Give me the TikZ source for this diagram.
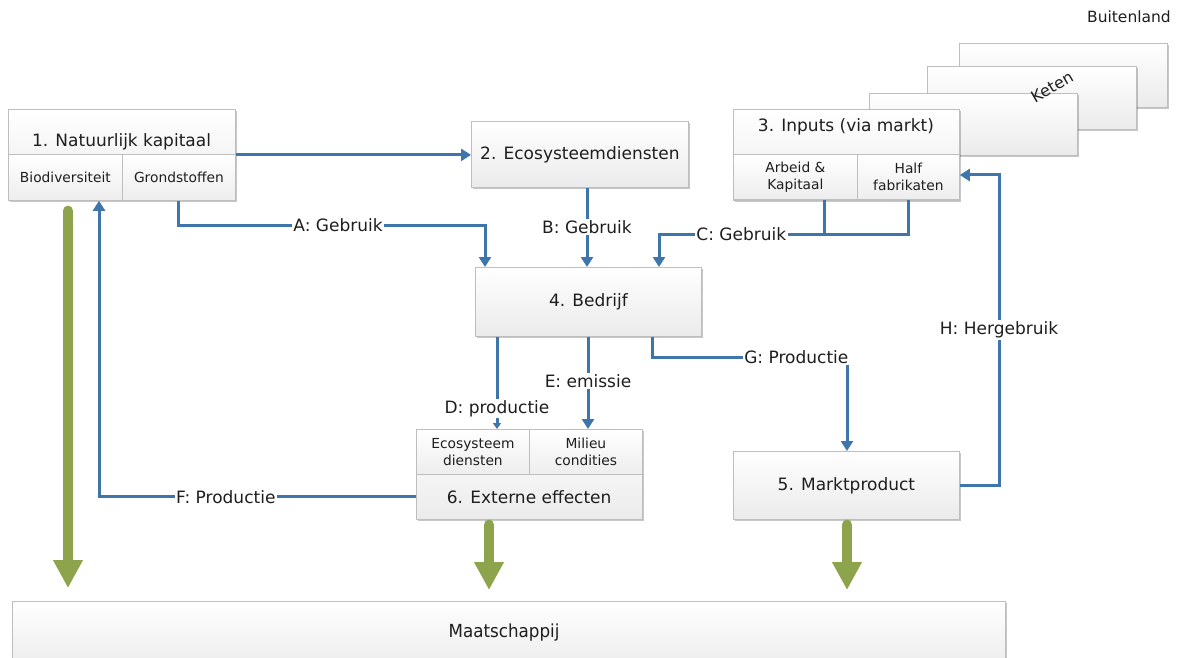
\documentclass[tikz,border=0pt]{standalone}
\usepackage{fontspec}
\setmainfont{DejaVu Sans}
\usetikzlibrary{arrows.meta,shadows,calc}

\definecolor{flow}{RGB}{62,117,170}
\definecolor{leaf}{RGB}{141,163,76}
\definecolor{rim}{RGB}{190,190,190}
\definecolor{ink}{RGB}{30,30,30}

\tikzset{
  wh/.style 2 args={minimum width=#1pt, minimum height=#2pt},
  panel/.style={draw=rim, line width=0.8pt, top color=white, bottom color=black!8,
    drop shadow={shadow xshift=1.6pt, shadow yshift=-1.6pt, opacity=0.22, fill=black},
    anchor=north west, inner sep=0pt, text=ink},
  cell/.style={draw=rim, line width=0.8pt, top color=white, bottom color=black!7,
    anchor=north west, inner sep=0pt, align=center, text=ink,
    font=\fontsize{13.8}{17}\selectfont},
  caption/.style={text=ink, font=\fontsize{17}{20}\selectfont, inner sep=0pt},
  lbl/.style={fill=white, text=ink, font=\fontsize{17}{20}\selectfont, inner sep=1.5pt},
  flowarrow/.style={draw=flow, line width=3pt, miter limit=4,
    -{Triangle[width=12pt,length=10pt]}},
  smalltip/.style={draw=flow, line width=3pt, -{Triangle[width=8pt,length=6pt]}},
  bigarrow/.style={draw=leaf, line width=10.5pt, line cap=round,
    -{Triangle[width=28pt,length=28pt]}},
}

\begin{document}
\begin{tikzpicture}[x=1pt, y=-1pt]
\useasboundingbox (0,0) rectangle (1189,658);

% --- chain of foreign suppliers behind box 3
\node[panel, wh={208}{64}] (back) at (959,43) {};
\node[panel, wh={209}{63}] (mid) at (927,66) {};
\node[panel, wh={208}{62}] (front) at (869,93) {};
\node[caption, rotate=30, font=\fontsize{16}{19}\selectfont] (keten) at (1052,87) {Keten};
\node[caption, anchor=north east, font=\fontsize{15.5}{19}\selectfont] (buitenland) at (1171,11) {Buitenland};

% --- 1. natural capital
\node[panel, wh={227}{91}] (box1) at (8,109) {};
\node[caption] (t1) at (121.5,142) {1. Natuurlijk kapitaal};
\node[cell, wh={114}{46}] (bio) at (8,154) {Biodiversiteit};
\node[cell, wh={113}{46}] (grond) at (122,154) {Grondstoffen};

% --- 2. ecosystem services
\node[panel, wh={217}{66}] (box2) at (471,121) {};
\node[caption] (t2) at (box2.center) {2. Ecosysteemdiensten};

% --- 3. inputs
\node[panel, wh={226}{91}] (box3) at (733,109) {};
\node[caption] (t3) at (846,127) {3. Inputs (via markt)};
\node[cell, wh={124}{45}] (arbeid) at (733,154) {Arbeid \&\\Kapitaal};
\node[cell, wh={102}{45}] (half) at (857,154) {Half\\fabrikaten};

% --- 4. company
\node[panel, wh={226}{69}] (box4) at (475,267) {};
\node[caption] (t4) at (box4.center) {4. Bedrijf};

% --- 6. external effects
\node[panel, wh={226}{90}] (box6) at (416,429) {};
\node[cell, wh={113}{45}] (ecod) at (416,429) {Ecosysteem\\diensten};
\node[cell, wh={113}{45}] (milieu) at (529,429) {Milieu\\condities};
\node[caption, wh={226}{45}, anchor=north west] (t6) at (416,474) {6. Externe effecten};

% --- 5. market product
\node[panel, wh={226}{68}] (box5) at (733,451) {};
\node[caption] (t5) at (box5.center) {5. Marktproduct};

% --- society
\node[panel, wh={993}{70}] (maat) at (12,601) {};
\node[caption, font=\fontsize{18}{21}\selectfont] (tm) at (504,633) {\scalebox{0.93}[1]{Maatschappij}};

% --- turning points of the connectors
\coordinate (aTurn) at (485,225);
\coordinate (bx) at (587,0);
\coordinate (cx) at (824,0);
\coordinate (cTurn) at (659,234);
\coordinate (dx) at (497,0);
\coordinate (ex) at (588,0);
\coordinate (gx) at (652,0);
\coordinate (gTurn) at (847,357);
\coordinate (hTurn) at (999,175);
\coordinate (fx) at (99,0);
\coordinate (g1) at (68,0);
\coordinate (g2) at (489,0);
\coordinate (g3) at (847,0);

% --- flows
\draw[flowarrow] (box1.east) -- (box1.east -| box2.west);
\draw[flowarrow] (grond.south) |- node[lbl, pos=0.76] {A: Gebruik} (aTurn) -- (aTurn |- box4.north);
\draw[flowarrow] (box2.south -| bx) -- node[lbl] {B: Gebruik} (box4.north -| bx);
\draw[draw=flow, line width=3pt] (arbeid.south -| cx) -- (cTurn -| cx);
\draw[flowarrow] (half.south) |- node[lbl, pos=0.835] {C: Gebruik} (cTurn) -- (cTurn |- box4.north);
\draw[smalltip] (box4.south -| dx) -- node[lbl, pos=0.78] {D: productie} (box6.north -| dx);
\draw[flowarrow] (box4.south -| ex) -- node[lbl, pos=0.48] {E: emissie} (box6.north -| ex);
\draw[flowarrow] (box4.south -| gx) |- node[lbl, pos=0.87] {G: Productie} (gTurn) -- (gTurn |- box5.north);
\draw[flowarrow] (box5.east) -| node[lbl, pos=0.75] {H: Hergebruik} (hTurn) -- (hTurn -| half.east);
\draw[flowarrow] (t6.west) -| node[lbl, pos=0.3] {F: Productie} (bio.south -| fx);

% --- contributions to society
\draw[bigarrow, shorten <=10pt, shorten >=13pt] (box1.south -| g1) -- (maat.north -| g1);
\draw[bigarrow, shorten <=5pt, shorten >=11pt] (box6.south -| g2) -- (maat.north -| g2);
\draw[bigarrow, shorten <=5pt, shorten >=11pt] (box5.south -| g3) -- (maat.north -| g3);
\end{tikzpicture}
\end{document}
